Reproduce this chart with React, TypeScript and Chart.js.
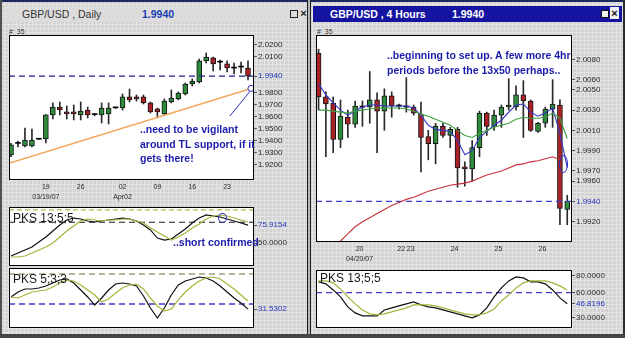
import React, { useEffect, useRef } from "react";
import { Chart, registerables } from "chart.js";
Chart.register(...registerables);

const FONT = '"Liberation Sans", Arial, sans-serif';

// ---------- GBP/USD Daily ----------
const dailyOpen = [1.9283, 1.938, 1.9358, 1.9358, 1.9415, 1.9417, 1.9617, 1.9683, 1.9642, 1.9642, 1.9617, 1.9658, 1.962, 1.9617, 1.9625, 1.9676, 1.9675, 1.9767, 1.9767, 1.9767, 1.9717, 1.9667, 1.9625, 1.9725, 1.975, 1.9792, 1.9875, 1.9892, 2.0067, 2.0092, 2.0057, 2.0042, 2.0007, 2.0016, 2.0008];
const dailyHigh = [1.938, 1.94, 1.9508, 1.95, 1.942, 1.962, 1.9717, 1.9725, 1.9692, 1.97, 1.9725, 1.9683, 1.9625, 1.9717, 1.9717, 1.968, 1.9792, 1.9833, 1.9783, 1.9783, 1.9725, 1.9675, 1.975, 1.9825, 1.9808, 1.9883, 1.9917, 2.0083, 2.0133, 2.01, 2.0075, 2.0067, 2.005, 2.0058, 2.0067];
const dailyLow = [1.927, 1.935, 1.935, 1.935, 1.9412, 1.9383, 1.9583, 1.9617, 1.9583, 1.9575, 1.9575, 1.9592, 1.961, 1.955, 1.9542, 1.967, 1.9658, 1.9725, 1.9733, 1.9708, 1.9633, 1.9592, 1.9617, 1.9717, 1.9742, 1.9783, 1.9858, 1.9883, 2.005, 1.9983, 1.9992, 1.9975, 1.9958, 1.9967, 1.9908];
const dailyClose = [1.9367, 1.938, 1.9408, 1.9408, 1.9415, 1.9617, 1.9683, 1.9658, 1.9625, 1.9625, 1.965, 1.9617, 1.962, 1.9675, 1.9675, 1.9676, 1.9767, 1.9742, 1.975, 1.9717, 1.9642, 1.9642, 1.9733, 1.9758, 1.98, 1.9875, 1.99, 2.0067, 2.01, 2.0042, 2.0057, 2.0008, 2.0007, 2.0016, 1.994];
const dailyXTickIdx = [5, 10, 16, 21, 26, 31];
const dailyXTickLabels: (string | string[])[] = [["19", "03/19/07"], "26", ["02", "Apr02"], "09", "16", "23"];
const dailyYTicks = [2.02, 2.01, 1.994, 1.98, 1.97, 1.96, 1.95, 1.94, 1.93, 1.92];
const dailyLastPrice = 1.994;
const trendlineIdx = [-0.29, 34.43];
const trendlineVal = [1.9214, 1.9838];
const pointerIdx = [34.3, 31.4];
const pointerVal = [1.9815, 1.9608];

const dailyPks13K = [31.4, 35.7, 40.0, 44.4, 51.6, 58.8, 67.4, 76.1, 83.3, 86.1, 84.7, 81.8, 80.4, 81.8, 83.3, 84.7, 86.1, 84.7, 81.8, 76.1, 68.9, 57.3, 54.4, 55.9, 63.1, 70.3, 78.9, 86.1, 90.5, 89.0, 87.6, 84.7, 81.8, 78.9, 75.9];
const dailyPks13D = [30, 30, 31.4, 35.7, 40, 44.4, 50.1, 58.8, 67.4, 74.6, 81.8, 84.7, 83.3, 81.8, 83.3, 83.3, 84.7, 84.7, 81.8, 78.9, 71.7, 66.0, 60.2, 54.4, 58.8, 64.5, 71.7, 77.5, 84.7, 89.0, 90.5, 89.0, 86.1, 83.3, 80.4];
const dailyPks13Ticks = [75.9154, 50];
const dailyPks13Levels = [98, 80];
const dailyPks5K = [51.7, 60, 65, 65, 66.7, 70, 75, 80, 81.7, 75, 63.3, 51.7, 38.3, 50, 63.3, 73.3, 75, 73.3, 70, 53.3, 33.3, 16.7, 33.3, 55, 71.7, 78.3, 81.7, 85, 83.3, 78.3, 70, 60, 50, 41.7, 31.5];
const dailyPks5D = [51.7, 50, 55, 60, 61.7, 63.3, 68.3, 75, 80, 78.3, 71.7, 63.3, 55, 43.3, 48.3, 58.3, 66.7, 71.7, 73.3, 65, 50, 36.7, 28.3, 31.7, 46.7, 60, 70, 78.3, 83.3, 85, 81.7, 73.3, 65, 55, 45];
const dailyPks5Ticks = [31.5302];
const dailyPks5Levels = [90, 40];

// ---------- GBP/USD 4 Hours ----------
const h4Open = [2.0086, 2.0043, 2.0037, 2.0001, 2.0023, 2.0016, 2.0033, 2.0033, 2.004, 2.0029, 2.0044, 2.0034, 2.0033, 2.0033, 2.0026, 2.0004, 1.9997, 2.0014, 2.0005, 2.0011, 1.9974, 1.9972, 1.9993, 2.0027, 2.0014, 2.0025, 2.0033, 2.0033, 2.0045, 2.0039, 2.0009, 2.0017, 2.0031, 2.0035, 1.9932];
const h4High = [2.009, 2.0048, 2.0043, 2.004, 2.003, 2.0039, 2.0039, 2.0068, 2.0047, 2.0051, 2.0048, 2.0036, 2.0062, 2.0035, 2.0038, 2.001, 2.0017, 2.0017, 2.0013, 2.0013, 1.9979, 2.0, 2.0029, 2.0028, 2.003, 2.0035, 2.0061, 2.0054, 2.0059, 2.004, 2.0018, 2.0033, 2.006, 2.004, 1.9946];
const h4Low = [2.003, 1.9984, 1.9988, 1.9993, 2.0003, 2.0013, 2.0014, 2.0017, 1.9988, 2.001, 2.0023, 2.0031, 2.0028, 2.0025, 1.9969, 1.9981, 1.9977, 2.0003, 1.9993, 1.9954, 1.9955, 1.996, 1.9984, 2.0005, 2.001, 2.0013, 2.003, 2.003, 2.0003, 2.0009, 2.0008, 2.0013, 2.0013, 1.9917, 1.9917];
const h4Close = [2.0043, 2.0036, 2.0001, 2.0024, 2.0016, 2.0034, 2.0033, 2.004, 2.0029, 2.0044, 2.0034, 2.0034, 2.0033, 2.0027, 2.0003, 1.9997, 2.0014, 2.0005, 2.0011, 1.9973, 1.9972, 1.9993, 2.0027, 2.0014, 2.0025, 2.0033, 2.0035, 2.0045, 2.0039, 2.001, 2.0017, 2.0031, 2.0036, 1.9933, 1.994];
const h4MaFast = [2.0056, 2.0045, 2.0037, 2.003, 2.0025, 2.0029, 2.0033, 2.0035, 2.0035, 2.0034, 2.0034, 2.0034, 2.0034, 2.0032, 2.0025, 2.0015, 2.0011, 2.001, 2.0009, 2.0, 1.9986, 1.999, 2.0003, 2.0009, 2.0015, 2.002, 2.0028, 2.0035, 2.0036, 2.0028, 2.0024, 2.0027, 2.0032, 2.0007, 1.9973];
const h4Ma13 = [2.003, 2.003, 2.0029, 2.0028, 2.0027, 2.0029, 2.003, 2.0031, 2.0032, 2.0032, 2.0032, 2.0032, 2.0031, 2.0029, 2.0026, 2.0024, 2.0021, 2.0018, 2.0015, 2.001, 2.0005, 2.0003, 2.0007, 2.001, 2.0013, 2.0015, 2.0017, 2.0021, 2.0023, 2.0022, 2.0022, 2.0023, 2.0027, 2.0022, 2.0002];
const h4Ma50 = [1.9881, 1.9887, 1.9894, 1.9901, 1.9908, 1.9915, 1.992, 1.9924, 1.9928, 1.9932, 1.9936, 1.9939, 1.9942, 1.9944, 1.9947, 1.995, 1.9952, 1.9954, 1.9956, 1.9957, 1.9958, 1.996, 1.9963, 1.9966, 1.9968, 1.997, 1.9973, 1.9976, 1.9977, 1.9979, 1.998, 1.9982, 1.9984, 1.9981, null];
const h4XTickIdx = [5.6, 11.3, 12.6, 18.6, 24.6, 30.6];
const h4XTickLabels: (string | string[])[] = [["20", "04/20/07"], "22", "23", "24", "25", "26"];
const h4YTicks = [2.008, 2.006, 2.005, 2.003, 2.001, 1.999, 1.997, 1.996, 1.994, 1.992];
const h4LastPrice = 1.994;
const h4PksK = [72.9, 70.5, 63.3, 55, 43.1, 36, 32.4, 32.4, 32.4, 39.5, 41.9, 44.3, 46.7, 49, 45.5, 43.1, 41.9, 39.5, 37.1, 34.8, 32.4, 30, 33.6, 41.9, 55, 65.7, 74, 78.8, 77.6, 72.9, 72.9, 70.5, 63.3, 53.8, 46.8];
const h4PksD = [74, 74, 71.7, 64.5, 55, 46.7, 39.5, 34.8, 33.6, 34.8, 37.1, 39.5, 41.9, 45.5, 45.5, 45.5, 44.3, 41.9, 39.5, 37.1, 34.8, 33.6, 33.6, 36, 40.7, 50.2, 57.4, 65.7, 71.7, 74, 74, 74, 71.7, 68.1, 63.3];
const h4PksTicks = [80, 60, 46.8196, 30];
const h4PksLevel = 60;

// ---------- helpers ----------
const GREEN = "#2e8b3c";
const RED = "#aa2226";
const OSC_BLACK = "#111111";
const OSC_YELLOW = "#a7b33a";
const TICK_BLUE = "#2535c0";

const framePlugin = {
  id: "frame",
  beforeDraw(chart: any) {
    const { ctx, chartArea: a } = chart;
    ctx.save();
    ctx.fillStyle = "#ffffff";
    ctx.fillRect(a.left, a.top, a.right - a.left, a.bottom - a.top);
    ctx.restore();
  },
  afterDraw(chart: any) {
    const { ctx, chartArea: a } = chart;
    ctx.save();
    ctx.strokeStyle = "#000000";
    ctx.lineWidth = 1;
    ctx.strokeRect(Math.round(a.left) + 0.5, Math.round(a.top) + 0.5, Math.round(a.right - a.left) - 1, Math.round(a.bottom - a.top) - 1);
    ctx.restore();
  },
};

function candles(o: number[], h: number[], l: number[], c: number[]) {
  const idx = o.map((_, i) => i);
  return [
    {
      type: "bar", label: "wick",
      data: idx.map((i) => ({ x: i, y: [l[i], h[i]] })),
      backgroundColor: "#2a2a2a", borderWidth: 0, barThickness: 1, grouped: false, order: 3,
    },
    {
      type: "bar", label: "body",
      data: idx.map((i) => ({ x: i, y: [o[i], c[i]] })),
      backgroundColor: idx.map((i) => (c[i] > o[i] ? GREEN : c[i] < o[i] ? RED : "#000000")),
      borderColor: "#151515",
      borderWidth: idx.map((i) => (c[i] === o[i] ? 0 : 1)),
      borderSkipped: false, barThickness: 5, grouped: false, minBarLength: 1, order: 2,
    },
  ];
}

function series(vals: (number | null)[], color: string, width = 1.1, order = 0) {
  return {
    type: "line",
    data: vals.map((v, i) => ({ x: i, y: v })),
    borderColor: color, borderWidth: width, pointRadius: 0, tension: 0, order, fill: false,
  };
}

function level(xmin: number, xmax: number, v: number, color: string, dash: number[], width = 1.2) {
  return {
    type: "line",
    data: [{ x: xmin, y: v }, { x: xmax, y: v }],
    borderColor: color, borderDash: dash, borderWidth: width, pointRadius: 0, order: 1, fill: false,
  };
}

function makeConfig(p: {
  datasets: any[]; xmin: number; xmax: number; ymin: number; ymax: number;
  yTicks: number[]; blueTicks: number[]; xTicks?: number[]; xLabels?: (string | string[])[];
  yw: number; xh: number; yFont?: number;
}) {
  const showX = !!p.xTicks;
  return {
    type: "bar",
    data: { datasets: p.datasets },
    options: {
      animation: false, responsive: false, devicePixelRatio: 1, events: [],
      layout: { padding: 0, autoPadding: false },
      plugins: { legend: { display: false }, tooltip: { enabled: false }, title: { display: false } },
      scales: {
        x: {
          type: "linear", min: p.xmin, max: p.xmax, offset: false, display: showX,
          grid: { display: false, drawTicks: false, offset: false }, border: { display: false },
          afterBuildTicks: (s: any) => { if (p.xTicks) s.ticks = p.xTicks.map((v) => ({ value: v })); },
          afterFit: (s: any) => { s.height = p.xh; s.paddingLeft = 0; s.paddingRight = 0; },
          ticks: {
            autoSkip: false, maxRotation: 0, minRotation: 0, padding: 2, color: "#2a2a2a",
            font: { family: FONT, size: 7, lineHeight: 1.43 },
            callback: (v: number) => {
              const j = (p.xTicks || []).findIndex((t) => Math.abs(t - v) < 1e-6);
              return j >= 0 ? (p.xLabels as any)[j] : "";
            },
          },
        },
        y: {
          type: "linear", position: "right", min: p.ymin, max: p.ymax, beginAtZero: false,
          border: { display: false },
          grid: { display: true, drawOnChartArea: false, drawTicks: true, tickLength: 3, color: "#555555" },
          afterBuildTicks: (s: any) => { s.ticks = p.yTicks.map((v) => ({ value: v })); },
          afterFit: (s: any) => { s.width = p.yw; s.paddingTop = 0; s.paddingBottom = 0; },
          ticks: {
            autoSkip: false, padding: 1,
            font: { family: FONT, size: p.yFont || 8 },
            color: (ctx: any) => (ctx.tick && p.blueTicks.includes(ctx.tick.value) ? TICK_BLUE : "#2a2a2a"),
            callback: (v: number) => Number(v).toFixed(4),
          },
        },
      },
    },
    plugins: [framePlugin],
  };
}

function ChartBox(props: { left: number; top: number; w: number; h: number; yw: number; xh: number; make: () => any }) {
  const ref = useRef<HTMLCanvasElement>(null);
  useEffect(() => {
    const chart = new Chart(ref.current as HTMLCanvasElement, props.make());
    return () => chart.destroy();
  }, []);
  const W = props.w + props.yw;
  const H = props.h + props.xh;
  return (
    <canvas ref={ref} width={W} height={H}
      style={{ position: "absolute", left: props.left, top: props.top, width: W, height: H }} />
  );
}

// ---------- chart builders ----------
const DX = { min: -0.29, max: 34.86 };
const HX = { min: -0.35, max: 34.65 };

const makeDailyMain = () =>
  makeConfig({
    datasets: [
      ...candles(dailyOpen, dailyHigh, dailyLow, dailyClose),
      level(DX.min, DX.max, dailyLastPrice, "#1e1e8c", [6, 4], 1.3),
      {
        type: "line",
        data: trendlineIdx.map((x, i) => ({ x, y: trendlineVal[i] })),
        borderColor: "#f2a85e", borderWidth: 1.5, order: 0,
        pointRadius: [0, 3], pointBorderColor: "#3535c0", pointBackgroundColor: "#ffffff", pointBorderWidth: 1,
      },
      {
        type: "line",
        data: pointerIdx.map((x, i) => ({ x, y: pointerVal[i] })),
        borderColor: "#3030b8", borderWidth: 1, pointRadius: 0, order: 0,
      },
    ],
    xmin: DX.min, xmax: DX.max, ymin: 1.9075, ymax: 2.0283,
    yTicks: dailyYTicks, blueTicks: [dailyLastPrice],
    xTicks: dailyXTickIdx, xLabels: dailyXTickLabels, yw: 40, xh: 26,
  });

const makeDailyPks13 = () =>
  makeConfig({
    datasets: [
      level(DX.min, DX.max, dailyPks13Levels[0], "#b5b552", [5, 3], 1.2),
      level(DX.min, DX.max, dailyPks13Levels[1], "#1a1a1a", [6, 4], 1.2),
      series(dailyPks13D, OSC_YELLOW, 1.2, 0),
      series(dailyPks13K, OSC_BLACK, 1.2, 0),
    ],
    xmin: DX.min, xmax: DX.max, ymin: 17, ymax: 102,
    yTicks: dailyPks13Ticks, blueTicks: [dailyPks13Ticks[0]], yw: 40, xh: 0,
  });

const makeDailyPks5 = () =>
  makeConfig({
    datasets: [
      level(DX.min, DX.max, dailyPks5Levels[0], "#6e6e3c", [6, 4], 1.2),
      level(DX.min, DX.max, dailyPks5Levels[1], "#3c3cc8", [6, 4], 1.3),
      series(dailyPks5D, OSC_YELLOW, 1.2, 0),
      series(dailyPks5K, OSC_BLACK, 1.2, 0),
    ],
    xmin: DX.min, xmax: DX.max, ymin: 0, ymax: 100,
    yTicks: dailyPks5Ticks, blueTicks: dailyPks5Ticks, yw: 40, xh: 0,
  });

const makeH4Main = () =>
  makeConfig({
    datasets: [
      ...candles(h4Open, h4High, h4Low, h4Close),
      level(HX.min, HX.max, h4LastPrice, "#4040cc", [6, 4], 1.3),
      series(h4Ma50, "#c8323c", 1.1, 0),
      series(h4Ma13, "#3ea040", 1.1, 0),
      series(h4MaFast, "#3535c8", 1.1, 0),
    ],
    xmin: HX.min, xmax: HX.max, ymin: 1.99, ymax: 2.0104,
    yTicks: h4YTicks, blueTicks: [h4LastPrice],
    xTicks: h4XTickIdx, xLabels: h4XTickLabels, yw: 45, xh: 26,
  });

const makeH4Pks = () =>
  makeConfig({
    datasets: [
      level(HX.min, HX.max, h4PksLevel, "#4040cc", [6, 4], 1.3),
      series(h4PksD, OSC_YELLOW, 1.2, 0),
      series(h4PksK, OSC_BLACK, 1.2, 0),
    ],
    xmin: HX.min, xmax: HX.max, ymin: 18, ymax: 87,
    yTicks: h4PksTicks, blueTicks: [46.8196], yw: 45, xh: 0,
  });

// ---------- page ----------
function Txt(p: { x: number; y: number; size: number; color: string; bold?: boolean; lh?: number; family?: string; children: React.ReactNode }) {
  const lh = p.lh || Math.round(p.size * 1.3);
  return (
    <div style={{
      position: "absolute", left: p.x, top: p.y - lh / 2, fontSize: p.size, lineHeight: lh + "px",
      color: p.color, fontWeight: p.bold ? "bold" : "normal", whiteSpace: "pre", fontFamily: p.family || FONT,
    }}>{p.children}</div>
  );
}

function Box(p: { l: number; t: number; w: number; h: number; bg?: string; style?: any }) {
  return <div style={{ position: "absolute", left: p.l, top: p.t, width: p.w, height: p.h, background: p.bg, ...(p.style || {}) }} />;
}

function WinIcons(p: { x: number; y: number; dark: boolean }) {
  const c = p.dark ? "#222" : "#111";
  const bg = p.dark ? "transparent" : "#f0f0f0";
  return (
    <>
      <div style={{ position: "absolute", left: p.x, top: p.y, width: 8, height: 8, border: `1px solid ${c}`, background: bg, boxSizing: "border-box" }} />
      <div style={{ position: "absolute", left: p.x + 9, top: p.y - 3, width: 9, height: 12, fontSize: 11, lineHeight: "12px", fontWeight: "bold", color: c, background: bg, textAlign: "center", fontFamily: FONT }}>×</div>
    </>
  );
}

export default function App() {
  const ANN = "#1c1caa";
  return (
    <div style={{
      position: "fixed", left: 0, top: 0, width: 625, height: 338, overflow: "hidden",
      backgroundColor: "#d3d3d3",
      backgroundImage: "linear-gradient(#e4e4e4 1px, transparent 1px), linear-gradient(90deg, #e4e4e4 1px, transparent 1px)",
      backgroundSize: "4px 4px", fontFamily: FONT,
    }}>
      {/* frame */}
      <Box l={0} t={0} w={625} h={2} bg="#1c2a60" />
      <Box l={0} t={0} w={2} h={338} bg="#505050" />
      <Box l={307} t={0} w={1} h={338} bg="#202020" />
      <Box l={308} t={0} w={2} h={338} bg="#b4b4b4" />
      <Box l={310} t={0} w={1} h={338} bg="#202020" />
      <Box l={623} t={0} w={2} h={338} bg="#303030" />
      <Box l={0} t={334} w={625} h={4} bg="#454545" />

      {/* title bars */}
      <Box l={4} t={6} w={301} h={16} bg="#dcdcdc" />
      <Txt x={22} y={14} size={10.5} color="#333">GBP/USD , Daily</Txt>
      <Txt x={142} y={14} size={10.5} color="#1a3cb0" bold>1.9940</Txt>
      <WinIcons x={290} y={10} dark />
      <Box l={313} t={6} w={309} h={16} bg="#1414a0" />
      <Txt x={330} y={14} size={10.5} color="#ffffff" bold>GBP/USD , 4 Hours</Txt>
      <Txt x={452} y={14} size={10.5} color="#ffffff" bold>1.9940</Txt>
      <WinIcons x={601} y={10} dark={false} />

      <Txt x={9} y={31} size={7} color="#333">#  35</Txt>
      <Txt x={317} y={31} size={7} color="#333">#  35</Txt>

      {/* charts */}
      <ChartBox left={9} top={35} w={245} h={145} yw={40} xh={26} make={makeDailyMain} />
      <ChartBox left={9} top={207} w={245} h={59} yw={40} xh={0} make={makeDailyPks13} />
      <ChartBox left={9} top={268} w={245} h={60} yw={40} xh={0} make={makeDailyPks5} />
      <ChartBox left={316} top={35} w={256} h={207} yw={45} xh={26} make={makeH4Main} />
      <ChartBox left={316} top={270} w={256} h={58} yw={45} xh={0} make={makeH4Pks} />

      {/* indicator labels */}
      <Txt x={13} y={218} size={12} color="#1a1a1a">PKS 13;5;5</Txt>
      <Txt x={13} y={279} size={12} color="#1a1a1a">PKS 5;3;3</Txt>
      <Txt x={320} y={278} size={12} color="#1a1a1a">PKS 13;5;5</Txt>

      {/* annotations */}
      <div style={{ position: "absolute", left: 140, top: 122, fontSize: 10.5, lineHeight: "14.5px", fontWeight: "bold", color: ANN, whiteSpace: "pre", fontFamily: FONT }}>
        {"..need to be vigilant\naround TL support, if it\ngets there!"}
      </div>
      <div style={{ position: "absolute", left: 387, top: 48, fontSize: 10.5, lineHeight: "15px", fontWeight: "bold", color: ANN, whiteSpace: "pre", fontFamily: FONT }}>
        {"..beginning to set up. A few more 4hr\nperiods before the 13x50 perhaps.."}
      </div>
      <Txt x={173} y={242} size={10.5} color={ANN} bold>..short confirmed</Txt>
      <div style={{ position: "absolute", left: 218, top: 213, width: 9, height: 10, border: "1px solid #3030c0", borderRadius: "50%", boxSizing: "border-box" }} />
      <div style={{ position: "absolute", left: 559, top: 155, width: 9, height: 18, border: "1px solid #3030c0", borderRadius: "50%", boxSizing: "border-box" }} />
    </div>
  );
}
